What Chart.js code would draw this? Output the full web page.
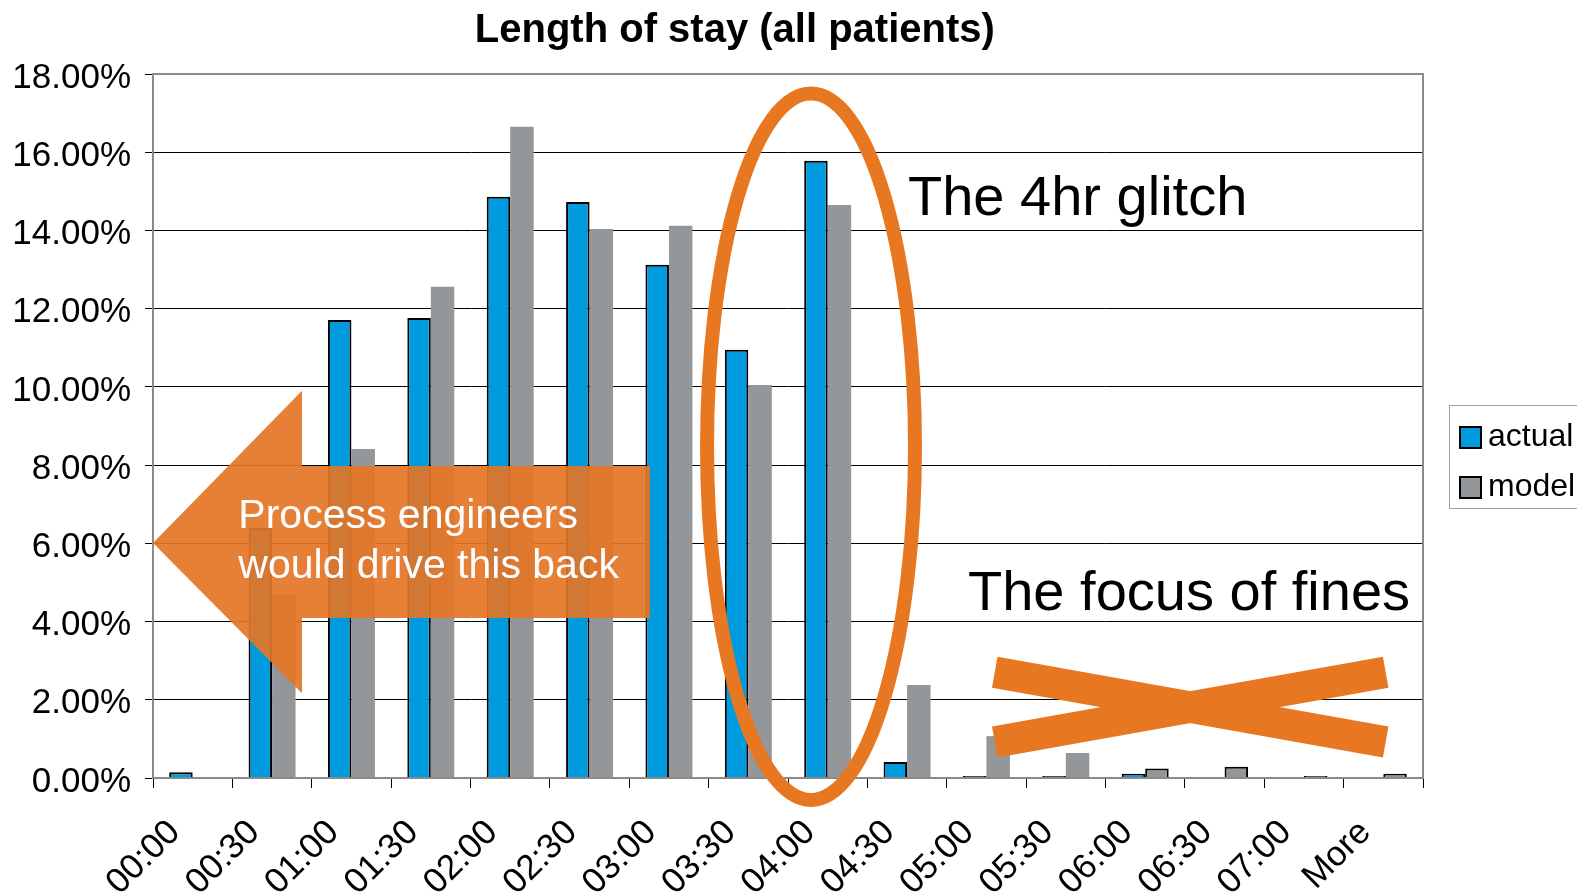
<!DOCTYPE html>
<html><head><meta charset="utf-8">
<script src="https://cdn.jsdelivr.net/npm/chart.js@4.4.1/dist/chart.umd.min.js"></script>
<style>html,body{margin:0;padding:0;background:#fff;overflow:hidden}canvas{display:block}</style>
</head><body>
<canvas id="c" width="1577" height="893"></canvas>
<script>
// ---- data ----
const categories = ['00:00','00:30','01:00','01:30','02:00','02:30','03:00','03:30','04:00','04:30','05:00','05:30','06:00','06:30','07:00','More'];
const actual = [0.15, 6.39, 11.71, 11.76, 14.86, 14.73, 13.12, 10.95, 15.78, 0.41, 0.05, 0.05, 0.11, 0, 0, 0];
const model  = [0, 4.68, 8.41, 12.56, 16.65, 14.04, 14.12, 10.05, 14.65, 2.38, 1.07, 0.64, 0.24, 0.29, 0.05, 0.11];
const seriesNames = ['actual', 'model'];
const yMin = 0, yMax = 18, yStep = 2;
const chartTitle = 'Length of stay (all patients)';
const glitchText = 'The 4hr glitch';
const finesText = 'The focus of fines';
const arrowLines = ['Process engineers', 'would drive this back'];

const FONT = '"Liberation Sans", Arial, Helvetica, sans-serif';
const ORANGE = '#E87722';
const BLUE = '#009BDE';
const GREY = '#939799';
const FRAME = '#8a8a8a';

const annotations = {
  id: 'annotations',
  beforeDatasetsDraw(chart) {
    const {ctx, chartArea: a} = chart;
    ctx.save();
    ctx.strokeStyle = FRAME; ctx.lineWidth = 2;
    ctx.beginPath();
    ctx.moveTo(a.left, a.top); ctx.lineTo(a.right, a.top); ctx.lineTo(a.right, a.bottom);
    ctx.stroke();
    ctx.restore();
  },
  afterDatasetsDraw(chart) {
    const {ctx, chartArea: a, scales: {x, y}} = chart;
    const x0 = x.getPixelForValue(0), dx = x.getPixelForValue(1) - x0;
    const px = i => x0 + i * dx;
    const py = v => y.getPixelForValue(v);
    ctx.save();
    // bottom axis line over bars
    ctx.strokeStyle = FRAME; ctx.lineWidth = 2;
    ctx.beginPath(); ctx.moveTo(a.left, a.bottom); ctx.lineTo(a.right, a.bottom); ctx.stroke();

    // ellipse around 04:00
    ctx.strokeStyle = ORANGE; ctx.lineWidth = 14;
    ctx.beginPath();
    ctx.ellipse(px(7.79), py(8.47), 1.31 * dx, py(0) - py(9.03), 0, 0, Math.PI * 2);
    ctx.stroke();

    // cross over tail
    ctx.lineWidth = 31.5; ctx.lineCap = 'butt';
    ctx.beginPath();
    ctx.moveTo(px(10.105), py(2.705)); ctx.lineTo(px(15.03), py(0.92));
    ctx.stroke();
    ctx.beginPath();
    ctx.moveTo(px(10.105), py(0.92)); ctx.lineTo(px(15.03), py(2.705));
    ctx.stroke();

    // left arrow
    ctx.fillStyle = 'rgba(228,117,38,0.92)';
    ctx.beginPath();
    ctx.moveTo(px(-0.5), py(6.01));
    ctx.lineTo(px(1.377), py(9.9));
    ctx.lineTo(px(1.377), py(7.98));
    ctx.lineTo(px(5.76), py(7.98));
    ctx.lineTo(px(5.76), py(4.09));
    ctx.lineTo(px(1.377), py(4.09));
    ctx.lineTo(px(1.377), py(2.17));
    ctx.closePath();
    ctx.fill();

    ctx.fillStyle = '#fff';
    ctx.font = '41px ' + FONT;
    ctx.textAlign = 'left'; ctx.textBaseline = 'alphabetic';
    ctx.fillText(arrowLines[0], px(0.575), py(6.38));
    ctx.fillText(arrowLines[1], px(0.575), py(5.11));

    ctx.fillStyle = '#000';
    ctx.font = '56px ' + FONT;
    ctx.fillText(glitchText, px(9.012), py(14.4));
    ctx.fillText(finesText, px(9.768), py(4.30));

    // title
    ctx.font = 'bold 40px ' + FONT;
    ctx.textAlign = 'center';
    ctx.fillText(chartTitle, px(6.83), 42);

    // legend
    const lx = a.right + 26, ly = 405;
    ctx.strokeStyle = '#a0a0a0'; ctx.lineWidth = 1;
    ctx.strokeRect(lx + 0.5, ly + 0.5, 200, 103);
    ctx.font = '32px ' + FONT;
    ctx.textAlign = 'left';
    chart.data.datasets.forEach((ds, k) => {
      const sy = ly + 22 + k * 50;
      ctx.fillStyle = ds.backgroundColor;
      ctx.fillRect(lx + 11, sy, 21, 21);
      ctx.strokeStyle = '#000'; ctx.lineWidth = 2;
      ctx.strokeRect(lx + 11, sy, 21, 21);
      ctx.fillStyle = '#000';
      ctx.fillText(ds.label, lx + 39, sy + 19);
    });
    ctx.restore();
  }
};

new Chart(document.getElementById('c'), {
  type: 'bar',
  data: {
    labels: categories,
    datasets: [
      { label: seriesNames[0], data: actual, backgroundColor: BLUE, borderColor: '#000', borderWidth: 2 },
      { label: seriesNames[1], data: model, backgroundColor: GREY, borderColor: '#000',
        borderWidth: c => (c.raw !== undefined && c.raw < 0.5 ? 2 : 0) }
    ]
  },
  options: {
    responsive: false,
    animation: false,
    devicePixelRatio: 1,
    layout: { padding: { left: 0, right: 154, top: 74, bottom: 0 } },
    datasets: { bar: { categoryPercentage: 0.592, barPercentage: 1.0 } },
    plugins: { legend: { display: false }, title: { display: false }, tooltip: { enabled: false } },
    scales: {
      x: {
        offset: true,
        grid: { display: true, drawOnChartArea: false, drawTicks: true, tickLength: 10, color: '#000', tickColor: '#000', offset: true },
        border: { color: FRAME, width: 2 },
        ticks: { color: '#000', font: { family: FONT, size: 35 }, maxRotation: 45, minRotation: 45, autoSkip: false, padding: 24, labelOffset: -18 },
        afterFit: s => { s.height = 115; }
      },
      y: {
        min: yMin, max: yMax,
        grid: { color: c => (c.tick && c.tick.value === yMax ? FRAME : '#000'), lineWidth: 1, tickLength: 8, tickColor: '#000' },
        border: { color: FRAME, width: 2 },
        ticks: { stepSize: yStep, color: '#000', font: { family: FONT, size: 35 }, padding: 14, labelOffset: 4,
                 callback: v => v.toFixed(2) + '%' },
        afterFit: s => { s.width = 153; }
      }
    }
  },
  plugins: [annotations]
});
</script>
</body></html>
